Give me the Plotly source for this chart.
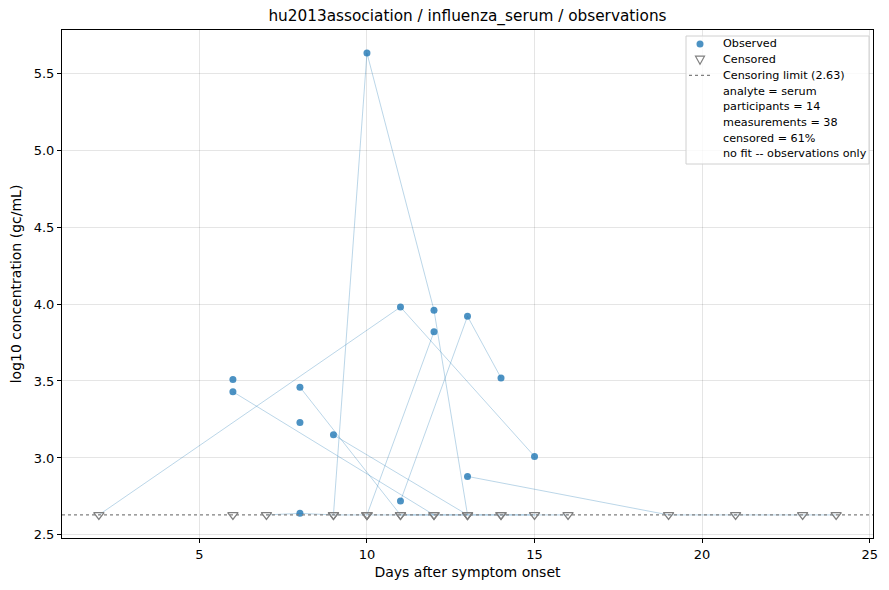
import plotly.graph_objects as go

# one row per measurement
participant = [1, 1, 1,
               2, 2, 2,
               3, 3, 3,
               4, 4,
               5, 5, 5, 5, 5,
               6, 6,
               7, 7, 7,
               8, 8, 8, 8, 8,
               9, 9, 9, 9,
               10, 11, 12,
               13, 13, 13,
               14, 14]
day = [2, 11, 15,
       6, 12, 14,
       8, 11, 13,
       9, 13,
       9, 10, 12, 13, 16,
       10, 12,
       11, 13, 14,
       13, 19, 21, 23, 24,
       7, 8, 9, 10,
       6, 8, 6,
       10, 11, 12,
       14, 15]
log10_conc = [2.63, 3.98, 3.01,
              3.43, 2.63, 2.63,
              3.46, 2.63, 2.63,
              3.15, 2.63,
              2.63, 5.63, 3.96, 2.63, 2.63,
              2.63, 3.82,
              2.72, 3.92, 3.52,
              2.88, 2.63, 2.63, 2.63, 2.63,
              2.63, 2.64, 2.63, 2.63,
              3.51, 3.23, 2.63,
              2.63, 2.63, 2.63,
              2.63, 2.63]
censored = [1, 0, 0,
            0, 1, 1,
            0, 1, 1,
            0, 1,
            1, 0, 0, 1, 1,
            1, 0,
            0, 0, 0,
            0, 1, 1, 1, 1,
            1, 0, 1, 1,
            0, 0, 1,
            1, 1, 1,
            1, 1]
limit = 2.63
analyte = "serum"

BLUE = 'rgba(31,119,180,0.8)'

fig = go.Figure()

# participant trajectories
for p in sorted(set(participant)):
    idx = [i for i, q in enumerate(participant) if q == p]
    fig.add_trace(go.Scatter(x=[day[i] for i in idx], y=[log10_conc[i] for i in idx], mode='lines',
                             line=dict(color='rgba(31,119,180,0.3)', width=1),
                             showlegend=False, hoverinfo='skip'))

obs_x = [d for d, c in zip(day, censored) if not c]
obs_y = [v for v, c in zip(log10_conc, censored) if not c]
cen_x = [d for d, c in zip(day, censored) if c]
cen_y = [v for v, c in zip(log10_conc, censored) if c]

fig.add_trace(go.Scatter(x=obs_x, y=obs_y, mode='markers', name='Observed', showlegend=False,
                         marker=dict(color=BLUE, size=7, line=dict(width=0))))
fig.add_trace(go.Scatter(x=cen_x, y=cen_y, mode='markers', name='Censored', showlegend=False,
                         marker=dict(symbol='triangle-down-open', color='gray', size=9, line=dict(width=1.3))))
fig.add_trace(go.Scatter(x=[0.9, 25.1], y=[limit, limit], mode='lines', name='Censoring limit',
                         showlegend=False, line=dict(color='gray', width=1.3, dash='dot')))

# legend drawn by hand (matplotlib-style compact spacing)
n_part = len(set(participant))
n_meas = len(day)
pct = round(100 * sum(censored) / n_meas)
labels = ['Observed', 'Censored', f'Censoring limit ({limit:.2f})', f'analyte = {analyte}',
          f'participants = {n_part}', f'measurements = {n_meas}', f'censored = {pct}%',
          'no fit -- observations only']

W, H = 811, 508          # plot area in pixels
def px(x):
    return (x - 62) / W
def py(y):
    return (538 - y) / H

fig.add_shape(type='rect', xref='paper', yref='paper', x0=px(686), x1=px(869), y0=py(164), y1=py(36),
              line=dict(color='#d0d0d0', width=1), fillcolor='rgba(255,255,255,0.8)', layer='above')
for k, lab in enumerate(labels):
    yc = 44 + k * 15.7
    fig.add_annotation(x=px(720.5), y=py(yc), xref='paper', yref='paper', text=lab, showarrow=False,
                       xanchor='left', yanchor='middle', font=dict(size=11.2, color='black'))
gx = px(700)
fig.add_shape(type='circle', xref='paper', yref='paper', xsizemode='pixel', ysizemode='pixel',
              xanchor=gx, yanchor=py(44), x0=-3.5, x1=3.5, y0=-3.5, y1=3.5,
              fillcolor=BLUE, line=dict(width=0), layer='above')
fig.add_shape(type='path', xref='paper', yref='paper', xsizemode='pixel', ysizemode='pixel',
              xanchor=gx, yanchor=py(59.7), path='M -4.5,3.5 L 4.5,3.5 L 0,-4.5 Z',
              line=dict(color='gray', width=1.2), layer='above')
fig.add_shape(type='line', xref='paper', yref='paper', x0=px(689), x1=px(712), y0=py(75.4), y1=py(75.4),
              line=dict(color='gray', width=1.3, dash='dot'), layer='above')

axis = dict(showline=True, linecolor='black', linewidth=1, mirror=True, ticks='outside', ticklen=4,
            tickcolor='black', gridcolor='rgba(0,0,0,0.1)', zeroline=False, automargin=False,
            tickfont=dict(size=13, color='black'))
fig.update_xaxes(axis, range=[0.9, 25.1], tickvals=[5, 10, 15, 20, 25],
                 title=dict(text='Days after symptom onset', font=dict(size=14, color='black'), standoff=6))
fig.update_yaxes(axis, range=[2.48, 5.78], tickvals=[2.5, 3.0, 3.5, 4.0, 4.5, 5.0, 5.5], tickformat='.1f',
                 title=dict(text='log10 concentration (gc/mL)', font=dict(size=14, color='black'), standoff=8))
# page body has an 8px margin, so the figure is drawn 8px smaller and the margins shifted
fig.update_layout(
    width=881, height=582, plot_bgcolor='white', paper_bgcolor='white',
    font=dict(family='DejaVu Sans', color='black'),
    title=dict(text='hu2013association / influenza_serum / observations', x=0.5, xanchor='center',
               xref='paper', y=1 - 8 / 582, yanchor='middle', font=dict(size=15.3)),
    margin=dict(l=54, r=16, t=22, b=52),
    showlegend=False,
)
fig.write_html("out.html")
